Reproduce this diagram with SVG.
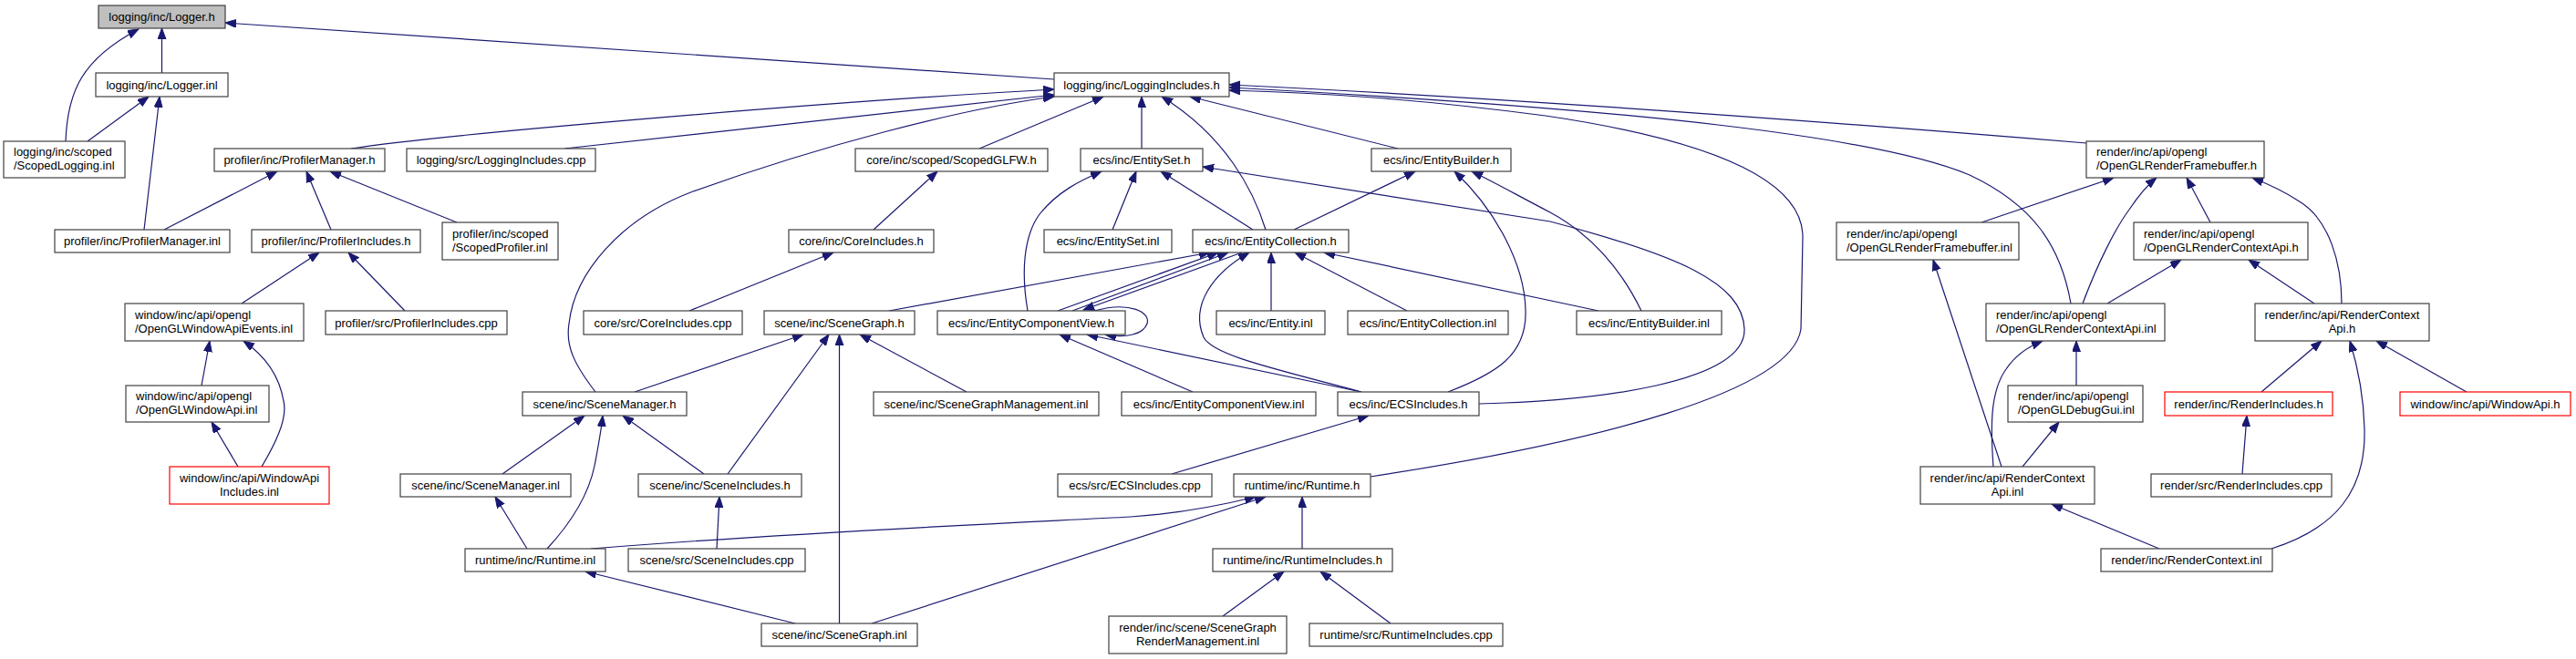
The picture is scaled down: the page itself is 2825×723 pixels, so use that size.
<svg xmlns="http://www.w3.org/2000/svg" width="2825" height="723" viewBox="0 0 2825 723">
<style>
.e{fill:none;stroke:#191970;stroke-width:1.2;marker-end:url(#a)}
.n{fill:#fff;stroke:#404040;stroke-width:1.2}
.r{fill:#fff;stroke:#ff0000;stroke-width:1.2}
.g{fill:#bfbfbf;stroke:#404040;stroke-width:1.2}
text{font-family:"Liberation Sans",Arial,sans-serif;font-size:13px;fill:#000}
.c{text-anchor:middle}
</style>
<defs>
<marker id="a" markerUnits="userSpaceOnUse" markerWidth="13" markerHeight="10" refX="12" refY="4.5" orient="auto">
<path d="M0,0 L12,4.5 L0,9 z" fill="#191970" stroke="#191970" stroke-width="1"/>
</marker>
<marker id="b" markerUnits="userSpaceOnUse" markerWidth="13" markerHeight="10" refX="12" refY="4.5" orient="auto">
<path d="M0,0 L12,4.5 L0,9 z" fill="#191970"/>
</marker>
</defs>
<rect width="2825" height="723" fill="#fff"/>
<g id="edges">
<path class="e" d="M72,155 C74,100 90,65 152,32"/>
<path class="e" d="M177.5,80 L177.5,31"/>
<path class="e" d="M1156,87 L247,25"/>
<path class="e" d="M96,155 L163,106"/>
<path class="e" d="M158,252 L175,106"/>
<path class="e" d="M385,163 C480,148 900,112 1156,98"/>
<path class="e" d="M619,163 L1156,104"/>
<path class="e" d="M653,430 C630,400 620,380 624,355 C630,300 680,240 760,210 C900,160 1050,120 1156,106"/>
<path class="e" d="M1074,163 L1210,106"/>
<path class="e" d="M1252,163 L1252,106"/>
<path class="e" d="M1388,252 C1375,210 1345,150 1274,106"/>
<path class="e" d="M1533,163 L1305,106"/>
<path class="e" d="M2288,157 C1900,125 1600,105 1348,93"/>
<path class="e" d="M2271,333 C2260,270 2230,225 2160,192 C2060,150 1800,120 1348,96"/>
<path class="e" d="M1503,523 C1750,485 1965,430 1975,361 L1977,260 C1977,190 1850,150 1695,127 C1550,108 1450,102 1348,99"/>
<path class="e" d="M180,252 L304,188"/>
<path class="e" d="M363,252 L336,188"/>
<path class="e" d="M501,244 L362,188"/>
<path class="e" d="M265,333 L350,277"/>
<path class="e" d="M444,341 L382,277"/>
<path class="e" d="M221,423 L230,374"/>
<path class="e" d="M287,512 C300,490 316,460 311,440 C306,410 290,390 267,374"/>
<path class="e" d="M261,512 L232,463"/>
<path class="e" d="M958,252 L1028,188"/>
<path class="e" d="M756,341 L914,277"/>
<path class="e" d="M1127,341 C1120,300 1122,260 1140,235 C1160,210 1185,198 1208,188"/>
<path class="e" d="M1220,252 L1246,188"/>
<path class="e" d="M1374,252 L1273,188"/>
<path class="e" d="M1622,443 C1750,440 1915,420 1913,361 C1911,310 1840,280 1700,243 L1319,183"/>
<path class="e" d="M1419,252 L1552,188"/>
<path class="e" d="M1588,430 C1640,410 1675,390 1673,340 C1672,290 1640,230 1595,188"/>
<path class="e" d="M1800,341 C1780,300 1750,260 1700,233 C1660,212 1635,198 1614,188"/>
<path class="e" d="M975,341 L1327,277"/>
<path class="e" d="M1160,341 L1336,277"/>
<path class="e" d="M1176,341 L1347,277"/>
<path class="e" d="M1362,277 L1188,340"/>
<path class="e" d="M1493,430 C1400,405 1330,390 1320,370 C1305,335 1330,300 1370,277"/>
<path class="e" d="M1394,341 L1394,277"/>
<path class="e" d="M1543,341 L1420,277"/>
<path class="e" d="M1753,341 L1452,277"/>
<path class="e" d="M1200,341 C1240,330 1262,343 1258,355 C1254,367 1235,371 1212,367"/>
<path class="e" d="M1308,430 L1162,367"/>
<path class="e" d="M1493,430 L1192,367"/>
<path class="e" d="M696,430 L881,367"/>
<path class="e" d="M798,520 L909,367"/>
<path class="e" d="M920.5,684 L920.5,367"/>
<path class="e" d="M1060,430 L943,367"/>
<path class="e" d="M551,520 L641,456"/>
<path class="e" d="M600,602 C625,575 645,545 652,511 C656,490 659,475 661,456"/>
<path class="e" d="M772,520 L683,456"/>
<path class="e" d="M578,602 L543,545"/>
<path class="e" d="M786,602 L789,545"/>
<path class="e" d="M1285,520 L1501,456"/>
<path class="e" d="M648,602 C900,582 1150,572 1240,567 C1300,563 1345,553 1377,545"/>
<path class="e" d="M956,684 L1388,545"/>
<path class="e" d="M1428,602 L1428,545"/>
<path class="e" d="M872,684 L642,627"/>
<path class="e" d="M1341,676 L1408,627"/>
<path class="e" d="M1525,684 L1448,627"/>
<path class="e" d="M2173,244 L2318,195"/>
<path class="e" d="M2284,333 C2300,290 2320,250 2335,230 C2345,215 2355,203 2365,195"/>
<path class="e" d="M2424,244 L2398,195"/>
<path class="e" d="M2568,333 C2568,290 2555,240 2520,220 C2505,210 2490,203 2470,195"/>
<path class="e" d="M2311,333 L2392,285"/>
<path class="e" d="M2538,333 L2466,285"/>
<path class="e" d="M2277,423 L2277,374"/>
<path class="e" d="M2186,512 C2183,470 2182,430 2200,405 C2210,390 2225,380 2240,374"/>
<path class="e" d="M2218,512 L2258,463"/>
<path class="e" d="M2195,512 L2120,285"/>
<path class="e" d="M2368,602 L2250,553"/>
<path class="e" d="M2480,430 L2546,374"/>
<path class="e" d="M2491,602 C2560,580 2595,540 2593,470 C2592,430 2585,400 2577,374"/>
<path class="e" d="M2705,430 L2606,374"/>
<path class="e" d="M2459,520 L2464,456"/>
</g>
<g id="n_logger_h"><rect class="g" x="108" y="6" width="139" height="25"/><text class="c" x="177.5" y="23">logging/inc/Logger.h</text></g>
<g id="n_logger_inl"><rect class="n" x="105" y="80" width="145" height="26"/><text class="c" x="177.5" y="97.5">logging/inc/Logger.inl</text></g>
<g id="n_logging_includes_h"><rect class="n" x="1156" y="80" width="192" height="26"/><text class="c" x="1252" y="97.5">logging/inc/LoggingIncludes.h</text></g>
<g id="n_scoped_logging"><rect class="n" x="4" y="155" width="133" height="40"/><text x="15" y="171">logging/inc/scoped</text><text x="15" y="186">/ScopedLogging.inl</text></g>
<g id="n_profiler_manager_h"><rect class="n" x="235" y="163" width="187" height="25"/><text class="c" x="328.5" y="180">profiler/inc/ProfilerManager.h</text></g>
<g id="n_logging_includes_cpp"><rect class="n" x="446" y="163" width="207" height="25"/><text class="c" x="549.5" y="180">logging/src/LoggingIncludes.cpp</text></g>
<g id="n_scoped_glfw"><rect class="n" x="938" y="163" width="211" height="25"/><text class="c" x="1043.5" y="180">core/inc/scoped/ScopedGLFW.h</text></g>
<g id="n_entity_set_h"><rect class="n" x="1185" y="163" width="134" height="25"/><text class="c" x="1252" y="180">ecs/inc/EntitySet.h</text></g>
<g id="n_entity_builder_h"><rect class="n" x="1504" y="163" width="153" height="25"/><text class="c" x="1580.5" y="180">ecs/inc/EntityBuilder.h</text></g>
<g id="n_fb_h"><rect class="n" x="2288" y="155" width="195" height="40"/><text x="2299" y="171">render/inc/api/opengl</text><text x="2299" y="186">/OpenGLRenderFramebuffer.h</text></g>
<g id="n_profiler_manager_inl"><rect class="n" x="60" y="252" width="192" height="25"/><text class="c" x="156" y="269">profiler/inc/ProfilerManager.inl</text></g>
<g id="n_profiler_includes_h"><rect class="n" x="276" y="252" width="185" height="25"/><text class="c" x="368.5" y="269">profiler/inc/ProfilerIncludes.h</text></g>
<g id="n_scoped_profiler"><rect class="n" x="485" y="244" width="127" height="41"/><text x="496" y="260.5">profiler/inc/scoped</text><text x="496" y="275.5">/ScopedProfiler.inl</text></g>
<g id="n_core_includes_h"><rect class="n" x="865" y="252" width="159" height="25"/><text class="c" x="944.5" y="269">core/inc/CoreIncludes.h</text></g>
<g id="n_entity_set_inl"><rect class="n" x="1145" y="252" width="140" height="25"/><text class="c" x="1215" y="269">ecs/inc/EntitySet.inl</text></g>
<g id="n_entity_collection_h"><rect class="n" x="1308" y="252" width="171" height="25"/><text class="c" x="1393.5" y="269">ecs/inc/EntityCollection.h</text></g>
<g id="n_fb_inl"><rect class="n" x="2014" y="244" width="200" height="41"/><text x="2025" y="260.5">render/inc/api/opengl</text><text x="2025" y="275.5">/OpenGLRenderFramebuffer.inl</text></g>
<g id="n_orca_h"><rect class="n" x="2340" y="244" width="191" height="41"/><text x="2351" y="260.5">render/inc/api/opengl</text><text x="2351" y="275.5">/OpenGLRenderContextApi.h</text></g>
<g id="n_window_events"><rect class="n" x="137" y="333" width="196" height="41"/><text x="148" y="349.5">window/inc/api/opengl</text><text x="148" y="364.5">/OpenGLWindowApiEvents.inl</text></g>
<g id="n_profiler_includes_cpp"><rect class="n" x="357" y="341" width="199" height="26"/><text class="c" x="456.5" y="358.5">profiler/src/ProfilerIncludes.cpp</text></g>
<g id="n_core_includes_cpp"><rect class="n" x="640" y="341" width="174" height="26"/><text class="c" x="727" y="358.5">core/src/CoreIncludes.cpp</text></g>
<g id="n_scene_graph_h"><rect class="n" x="838" y="341" width="165" height="26"/><text class="c" x="920.5" y="358.5">scene/inc/SceneGraph.h</text></g>
<g id="n_ecv_h"><rect class="n" x="1028" y="341" width="206" height="26"/><text class="c" x="1131" y="358.5">ecs/inc/EntityComponentView.h</text></g>
<g id="n_entity_inl"><rect class="n" x="1334" y="341" width="119" height="26"/><text class="c" x="1393.5" y="358.5">ecs/inc/Entity.inl</text></g>
<g id="n_entity_collection_inl"><rect class="n" x="1478" y="341" width="176" height="26"/><text class="c" x="1566" y="358.5">ecs/inc/EntityCollection.inl</text></g>
<g id="n_entity_builder_inl"><rect class="n" x="1729" y="341" width="159" height="26"/><text class="c" x="1808.5" y="358.5">ecs/inc/EntityBuilder.inl</text></g>
<g id="n_orca_inl"><rect class="n" x="2178" y="333" width="196" height="41"/><text x="2189" y="349.5">render/inc/api/opengl</text><text x="2189" y="364.5">/OpenGLRenderContextApi.inl</text></g>
<g id="n_rca_h"><rect class="n" x="2473" y="333" width="191" height="41"/><text class="c" x="2568.5" y="349.5">render/inc/api/RenderContext</text><text class="c" x="2568.5" y="364.5">Api.h</text></g>
<g id="n_window_api_inl"><rect class="n" x="138" y="423" width="157" height="40"/><text x="149" y="439">window/inc/api/opengl</text><text x="149" y="454">/OpenGLWindowApi.inl</text></g>
<g id="n_scene_manager_h"><rect class="n" x="573" y="430" width="180" height="26"/><text class="c" x="663" y="447.5">scene/inc/SceneManager.h</text></g>
<g id="n_sgm_inl"><rect class="n" x="958" y="430" width="247" height="26"/><text class="c" x="1081.5" y="447.5">scene/inc/SceneGraphManagement.inl</text></g>
<g id="n_ecv_inl"><rect class="n" x="1230" y="430" width="213" height="26"/><text class="c" x="1336.5" y="447.5">ecs/inc/EntityComponentView.inl</text></g>
<g id="n_ecs_includes_h"><rect class="n" x="1467" y="430" width="155" height="26"/><text class="c" x="1544.5" y="447.5">ecs/inc/ECSIncludes.h</text></g>
<g id="n_debug_gui"><rect class="n" x="2202" y="423" width="148" height="40"/><text x="2213" y="439">render/inc/api/opengl</text><text x="2213" y="454">/OpenGLDebugGui.inl</text></g>
<g id="n_render_includes_h"><rect class="r" x="2374" y="430" width="184" height="26"/><text class="c" x="2466" y="447.5">render/inc/RenderIncludes.h</text></g>
<g id="n_window_api_h"><rect class="r" x="2632" y="430" width="187" height="26"/><text class="c" x="2725.5" y="447.5">window/inc/api/WindowApi.h</text></g>
<g id="n_window_api_includes"><rect class="r" x="186" y="512" width="175" height="41"/><text class="c" x="273.5" y="528.5">window/inc/api/WindowApi</text><text class="c" x="273.5" y="543.5">Includes.inl</text></g>
<g id="n_scene_manager_inl"><rect class="n" x="439" y="520" width="187" height="25"/><text class="c" x="532.5" y="537">scene/inc/SceneManager.inl</text></g>
<g id="n_scene_includes_h"><rect class="n" x="700" y="520" width="179" height="25"/><text class="c" x="789.5" y="537">scene/inc/SceneIncludes.h</text></g>
<g id="n_ecs_includes_cpp"><rect class="n" x="1160" y="520" width="169" height="25"/><text class="c" x="1244.5" y="537">ecs/src/ECSIncludes.cpp</text></g>
<g id="n_runtime_h"><rect class="n" x="1353" y="520" width="150" height="25"/><text class="c" x="1428" y="537">runtime/inc/Runtime.h</text></g>
<g id="n_rca_inl"><rect class="n" x="2106" y="512" width="191" height="41"/><text class="c" x="2201.5" y="528.5">render/inc/api/RenderContext</text><text class="c" x="2201.5" y="543.5">Api.inl</text></g>
<g id="n_render_includes_cpp"><rect class="n" x="2359" y="520" width="198" height="25"/><text class="c" x="2458" y="537">render/src/RenderIncludes.cpp</text></g>
<g id="n_runtime_inl"><rect class="n" x="510" y="602" width="154" height="25"/><text class="c" x="587" y="619">runtime/inc/Runtime.inl</text></g>
<g id="n_scene_includes_cpp"><rect class="n" x="689" y="602" width="194" height="25"/><text class="c" x="786" y="619">scene/src/SceneIncludes.cpp</text></g>
<g id="n_runtime_includes_h"><rect class="n" x="1330" y="602" width="197" height="25"/><text class="c" x="1428.5" y="619">runtime/inc/RuntimeIncludes.h</text></g>
<g id="n_render_context_inl"><rect class="n" x="2304" y="602" width="188" height="25"/><text class="c" x="2398" y="619">render/inc/RenderContext.inl</text></g>
<g id="n_scene_graph_inl"><rect class="n" x="835" y="684" width="171" height="25"/><text class="c" x="920.5" y="701">scene/inc/SceneGraph.inl</text></g>
<g id="n_sgrm_inl"><rect class="n" x="1216" y="676" width="195" height="41"/><text class="c" x="1313.5" y="692.5">render/inc/scene/SceneGraph</text><text class="c" x="1313.5" y="707.5">RenderManagement.inl</text></g>
<g id="n_runtime_includes_cpp"><rect class="n" x="1436" y="684" width="212" height="25"/><text class="c" x="1542" y="701">runtime/src/RuntimeIncludes.cpp</text></g>
</svg>
